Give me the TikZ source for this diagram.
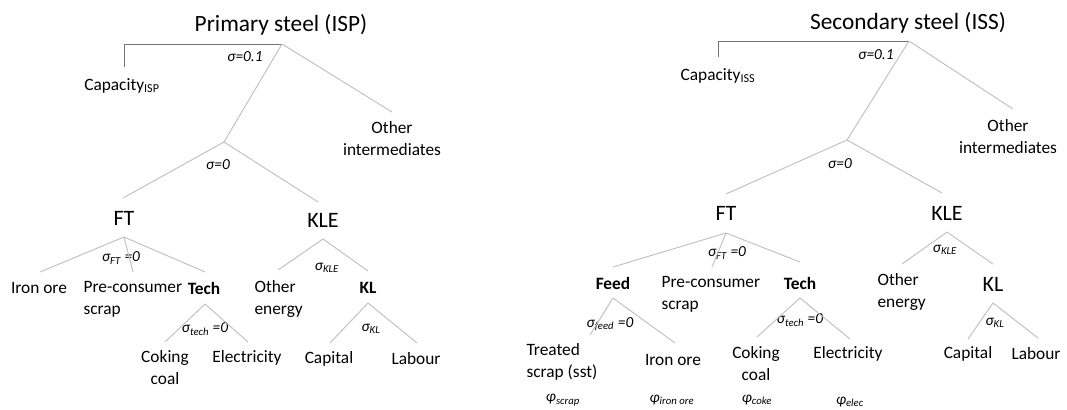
\documentclass[tikz,border=0pt]{standalone}
\usepackage{fontspec}
\setmainfont{Carlito}
\usepackage{tikz}

\begin{document}
\begin{tikzpicture}[
    x=0.75pt, y=-0.75pt,
    title/.style={font=\fontsize{17.5}{20}\selectfont},
    big/.style={font=\fontsize{16.5}{19}\selectfont},
    leaf/.style={font=\fontsize{13}{16.5}\selectfont, align=center, inner sep=1pt},
    leafl/.style={leaf, align=left, anchor=west},
    elas/.style={font=\fontsize{11.5}{13}\selectfont\itshape, inner sep=1pt},
    branch/.style={draw=gray!50, line width=0.7pt},
    bracket/.style={draw=black!55, line width=0.7pt}
]
    \useasboundingbox (0,0) rectangle (1067,410);

    % Primary steel: nodes
    \node[title] (isp) at (281,25) {Primary steel (ISP)};
    \coordinate (isp-top) at (282,44);
    \coordinate (isp-capend) at (124,67);
    \node[leaf] (isp-cap) at (122,86) {Capacity\textsubscript{ISP}};
    \node[elas] (isp-sig) at (245,57) {σ=0.1};
    \coordinate (isp-othend) at (392,112);
    \node[leaf] (isp-oth) at (392,139) {Other\\intermediates};
    \coordinate (isp-mid) at (224,142);
    \node[elas] (isp-sig0) at (218,165) {σ=0};
    \coordinate (isp-ftend) at (123,198);
    \node[big] (isp-ft) at (124,218) {FT};
    \coordinate (isp-kleend) at (318,202);
    \node[big] (isp-kle) at (323,220) {KLE};

    \coordinate (isp-ftapex) at (124,237);
    \node[elas] (isp-sigft) at (121,258) {σ\textsubscript{FT} =0};
    \coordinate (isp-ironend) at (40,272);
    \node[leaf] (isp-iron) at (39,288) {Iron ore};
    \coordinate (isp-preend) at (133,272);
    \node[leafl] (isp-pre) at (82,299) {Pre-consumer\\scrap};
    \coordinate (isp-techend) at (205,272);
    \node[leaf] (isp-tech) at (204,288) {\textbf{Tech}};

    \coordinate (isp-techapex) at (205,304);
    \node[elas] (isp-sigtech) at (205,329) {σ\textsubscript{tech} =0};
    \coordinate (isp-cokeend) at (165,342);
    \node[leaf] (isp-coke) at (165,368) {Coking\\coal};
    \coordinate (isp-elecend) at (248,342);
    \node[leaf] (isp-elec) at (247,358) {Electricity};

    \coordinate (isp-kleapex) at (323,239);
    \node[elas] (isp-sigkle) at (327,268) {σ\textsubscript{KLE}};
    \coordinate (isp-oenend) at (278,270);
    \node[leafl] (isp-oen) at (253,299) {Other\\energy};
    \coordinate (isp-klend) at (368,271);
    \node[leaf] (isp-kl) at (368,288) {\textbf{KL}};

    \coordinate (isp-klapex) at (368,303);
    \node[elas] (isp-sigkl) at (371,329) {σ\textsubscript{KL}};
    \coordinate (isp-capitalend) at (330,343);
    \node[leaf] (isp-capital) at (329,359) {Capital};
    \coordinate (isp-labend) at (417,343);
    \node[leaf] (isp-lab) at (416,359) {Labour};

    % Primary steel: lines
    \draw[bracket] (isp-top) -| (isp-capend);
    \draw[branch] (isp-top) -- (isp-othend);
    \draw[branch] (isp-top) -- (isp-mid);
    \draw[branch] (isp-mid) -- (isp-ftend);
    \draw[branch] (isp-mid) -- (isp-kleend);
    \draw[branch] (isp-ftapex) -- (isp-ironend);
    \draw[branch] (isp-ftapex) -- (isp-preend);
    \draw[branch] (isp-ftapex) -- (isp-techend);
    \draw[branch] (isp-techapex) -- (isp-cokeend);
    \draw[branch] (isp-techapex) -- (isp-elecend);
    \draw[branch] (isp-kleapex) -- (isp-oenend);
    \draw[branch] (isp-kleapex) -- (isp-klend);
    \draw[branch] (isp-klapex) -- (isp-capitalend);
    \draw[branch] (isp-klapex) -- (isp-labend);

    % Secondary steel: nodes
    \node[title] (iss) at (908,23) {Secondary steel (ISS)};
    \coordinate (iss-top) at (909,41);
    \coordinate (iss-capend) at (718,57);
    \node[leaf] (iss-cap) at (718,76) {Capacity\textsubscript{ISS}};
    \node[elas] (iss-sig) at (876,55) {σ=0.1};
    \coordinate (iss-othend) at (1013,109);
    \node[leaf] (iss-oth) at (1008,137) {Other\\intermediates};
    \coordinate (iss-mid) at (847,140);
    \node[elas] (iss-sig0) at (840,164) {σ=0};
    \coordinate (iss-ftend) at (726,194);
    \node[big] (iss-ft) at (726,213) {FT};
    \coordinate (iss-kleend) at (942,193);
    \node[big] (iss-kle) at (947,213) {KLE};

    \coordinate (iss-ftapex) at (726,233);
    \node[elas] (iss-sigft) at (727,253) {σ\textsubscript{FT} =0};
    \coordinate (iss-feedend) at (613,267);
    \node[leaf] (iss-feed) at (613,283) {\textbf{Feed}};
    \coordinate (iss-preend) at (712,267);
    \node[leafl] (iss-pre) at (660,294.5) {Pre-consumer\\scrap};
    \coordinate (iss-techend) at (800,262);
    \node[leaf] (iss-tech) at (800,283) {\textbf{Tech}};

    \coordinate (iss-feedapex) at (613,298);
    \node[elas] (iss-sigfeed) at (610,324) {σ\textsubscript{feed} =0};
    \coordinate (iss-scrapend) at (590,335);
    \node[leafl] (iss-scrap) at (525,362) {Treated\\scrap (sst)};
    \coordinate (iss-ironend) at (675,343);
    \node[leaf] (iss-iron) at (673,360) {Iron ore};

    \coordinate (iss-techapex) at (800,298);
    \node[elas] (iss-sigtech) at (800,320) {σ\textsubscript{tech} =0};
    \coordinate (iss-cokeend) at (757,337);
    \node[leaf] (iss-coke) at (756,364) {Coking\\coal};
    \coordinate (iss-elecend) at (850,339);
    \node[leaf] (iss-elec) at (848,354) {Electricity};

    \node[elas] (phi-scrap) at (563,400) {φ\textsubscript{scrap}};
    \node[elas] (phi-iron) at (672,400) {φ\textsubscript{iron ore}};
    \node[elas] (phi-coke) at (757,400) {φ\textsubscript{coke}};
    \node[elas] (phi-elec) at (850,402) {φ\textsubscript{elec}};

    \coordinate (iss-kleapex) at (947,232);
    \node[elas] (iss-sigkle) at (945,250) {σ\textsubscript{KLE}};
    \coordinate (iss-oenend) at (902,264);
    \node[leafl] (iss-oen) at (876,291.5) {Other\\energy};
    \coordinate (iss-klend) at (993,264);
    \node[big] (iss-kl) at (993,284) {KL};

    \coordinate (iss-klapex) at (993,303);
    \node[elas] (iss-sigkl) at (995,323) {σ\textsubscript{KL}};
    \coordinate (iss-capitalend) at (968,339);
    \node[leaf] (iss-capital) at (968,354) {Capital};
    \coordinate (iss-labend) at (1038,338);
    \node[leaf] (iss-lab) at (1036,354) {Labour};

    % Secondary steel: lines
    \draw[bracket] (iss-top) -| (iss-capend);
    \draw[branch] (iss-top) -- (iss-othend);
    \draw[branch] (iss-top) -- (iss-mid);
    \draw[branch] (iss-mid) -- (iss-ftend);
    \draw[branch] (iss-mid) -- (iss-kleend);
    \draw[branch] (iss-ftapex) -- (iss-feedend);
    \draw[branch] (iss-ftapex) -- (iss-preend);
    \draw[branch] (iss-ftapex) -- (iss-techend);
    \draw[branch] (iss-feedapex) -- (iss-scrapend);
    \draw[branch] (iss-feedapex) -- (iss-ironend);
    \draw[branch] (iss-techapex) -- (iss-cokeend);
    \draw[branch] (iss-techapex) -- (iss-elecend);
    \draw[branch] (iss-kleapex) -- (iss-oenend);
    \draw[branch] (iss-kleapex) -- (iss-klend);
    \draw[branch] (iss-klapex) -- (iss-capitalend);
    \draw[branch] (iss-klapex) -- (iss-labend);
\end{tikzpicture}
\end{document}
